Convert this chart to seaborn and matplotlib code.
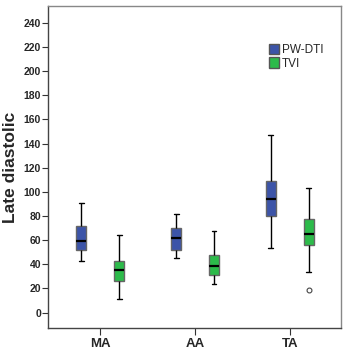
import matplotlib
matplotlib.use("Agg")
import matplotlib.pyplot as plt
import pandas as pd
import seaborn as sns
from matplotlib.patches import Patch

# Categories and series
sites = ["MA", "AA", "TA"]
methods = ["PW-DTI", "TVI"]

# Box stats: low whisker, Q1, median, Q3, high whisker
pw_low = [43, 45, 53.5]
pw_q1 = [52, 52, 80]
pw_med = [59, 62, 94]
pw_q3 = [72, 70, 109]
pw_high = [91, 81.5, 147]

tvi_low = [11.5, 23.5, 34]
tvi_q1 = [26, 31, 56]
tvi_med = [35.5, 38.5, 65.5]
tvi_q3 = [43, 47.5, 77.5]
tvi_high = [64.5, 67.5, 103]

# Outliers per site for TVI
tvi_outliers = [[], [], [19]]


def sample(low, q1, med, q3, high, outliers=()):
    # nine points so the quartiles land exactly on q1/med/q3
    vals = [low, q1, q1, med, med, med, q3, q3, high]
    if outliers:
        vals = list(outliers) + [low, q1, q1, med, q3, q3, high, high]
    return vals


rows = []
for i, site in enumerate(sites):
    for v in sample(pw_low[i], pw_q1[i], pw_med[i], pw_q3[i], pw_high[i]):
        rows.append({"site": site, "method": "PW-DTI", "value": v})
    for v in sample(tvi_low[i], tvi_q1[i], tvi_med[i], tvi_q3[i], tvi_high[i], tvi_outliers[i]):
        rows.append({"site": site, "method": "TVI", "value": v})
df = pd.DataFrame(rows)

colors = {"PW-DTI": "#3C54A8", "TVI": "#2CBB4A"}

sns.set_style("white")
plt.rcParams["font.family"] = ["Liberation Sans", "DejaVu Sans"]

fig = plt.figure(figsize=(3.48, 3.53), dpi=100)
ax = fig.add_axes([0.138, 0.071, 0.842, 0.912])

sns.boxplot(
    data=df, x="site", y="value", hue="method",
    order=sites, hue_order=methods, palette=colors, saturation=1,
    width=0.8, gap=0.74, whis=1.5, linewidth=1.0, linecolor="#666666",
    medianprops={"color": "black", "linewidth": 1.6},
    whiskerprops={"color": "black", "linewidth": 1.0},
    capprops={"color": "black", "linewidth": 1.0},
    flierprops={"marker": "o", "markersize": 3.5, "markerfacecolor": "white",
                "markeredgecolor": "#444444", "markeredgewidth": 0.8},
    legend=False, ax=ax,
)

ax.set_xlim(-0.55, 2.54)
ax.set_ylim(-12.7, 254)
ax.set_yticks(range(0, 241, 20))
ax.tick_params(axis="y", length=4, width=0.8, color="#333333", pad=1,
               labelsize=7.5, left=True)
ax.tick_params(axis="x", length=5, width=0.8, color="#333333", pad=2,
               labelsize=9.5, bottom=True)
for lab in ax.get_yticklabels():
    lab.set_fontweight("bold")
for lab in ax.get_xticklabels():
    lab.set_fontweight("bold")

ax.set_xlabel("")
ax.set_ylabel("Late diastolic", fontsize=12.5, fontweight="bold", labelpad=4)

for s in ax.spines.values():
    s.set_color("#888888")
    s.set_linewidth(1.0)
ax.spines["left"].set_color("#444444")
ax.spines["bottom"].set_color("#444444")

handles = [Patch(facecolor=colors[m], edgecolor="#555555", label=m) for m in methods]
ax.legend(handles=handles, loc="upper left", bbox_to_anchor=(0.735, 0.9),
          frameon=False, fontsize=8.5, handlelength=0.85, handleheight=0.95,
          handletextpad=0.2, labelspacing=0.1, borderpad=0)

fig.savefig("out.png", dpi=100)
